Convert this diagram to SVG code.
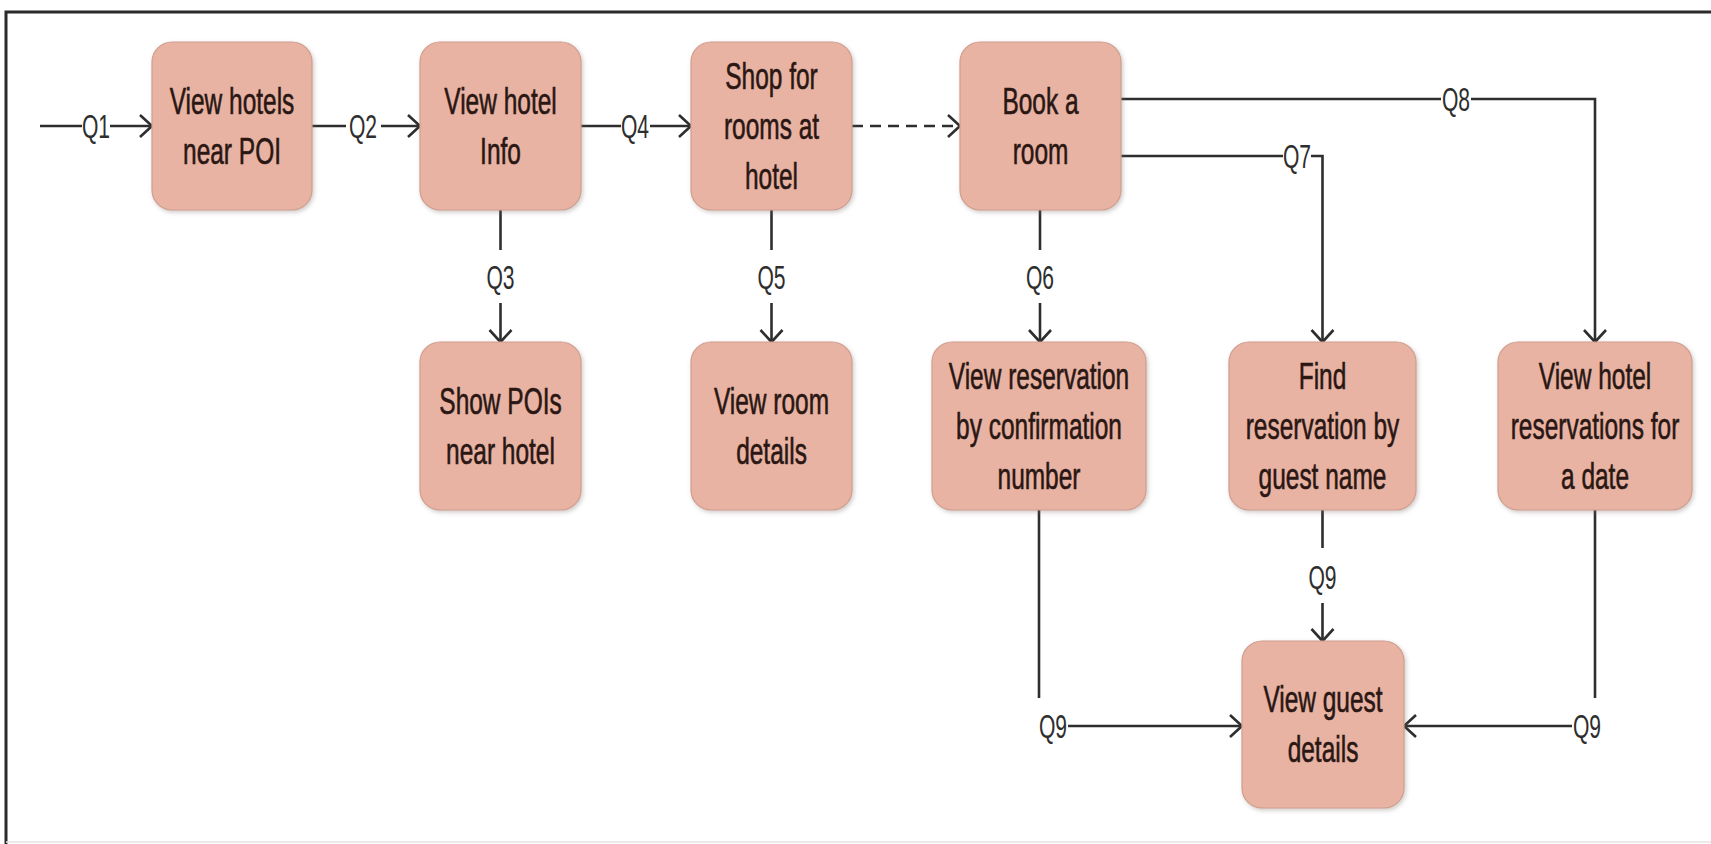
<svg xmlns="http://www.w3.org/2000/svg" width="1711" height="844" viewBox="0 0 1711 844">
  <style>
    .box { fill: #e8b3a3; stroke: #cf9e8f; stroke-width: 1.2; filter: url(#shadow); }
    .t { font-family: "Liberation Sans", Arial, sans-serif; font-size: 36px; fill: #2a1713; stroke: #2a1713; stroke-width: 0.6; text-anchor: middle; }
    .q { font-family: "Liberation Sans", Arial, sans-serif; font-size: 34px; fill: #2e2e2e; text-anchor: middle; }
    .ln { fill: none; stroke: #2e2e2e; stroke-width: 2.6; }
    .arr { marker-end: url(#chev); }
    .dash { stroke-dasharray: 11 7; }
  </style>
  <defs>
    <filter id="shadow" x="-10%" y="-10%" width="125%" height="125%">
      <feDropShadow dx="1.5" dy="2" stdDeviation="2" flood-color="#7a6a66" flood-opacity="0.35"/>
    </filter>
    <marker id="chev" markerUnits="userSpaceOnUse" markerWidth="16" markerHeight="26" viewBox="0 0 16 26" refX="14" refY="13" orient="auto">
      <path d="M2,2 L14,13 L2,24" fill="none" stroke="#2e2e2e" stroke-width="2.6"/>
    </marker>
  </defs>

  <rect width="1711" height="844" fill="#ffffff"/>
  <!-- outer frame -->
  <path d="M6,844 V12 H1711" fill="none" stroke="#2b2b2b" stroke-width="3"/>
  <path d="M6,842 H1711" fill="none" stroke="#e4e4e4" stroke-width="1.5"/>

  <!-- connectors -->
  <g id="connectors">
    <path class="ln" d="M40,126 H82"/>
    <path class="ln arr" d="M110,126 H152"/>
    <text class="q" transform="translate(96 138) scale(0.62 1)">Q1</text>

    <path class="ln" d="M312,126 H346"/>
    <path class="ln arr" d="M381,126 H420"/>
    <text class="q" transform="translate(363 138) scale(0.62 1)">Q2</text>

    <path class="ln" d="M581,126 H621"/>
    <path class="ln arr" d="M650,126 H691"/>
    <text class="q" transform="translate(635 138) scale(0.62 1)">Q4</text>

    <path class="ln dash arr" d="M852,126 H960"/>

    <path class="ln" d="M500.5,210 V250"/>
    <path class="ln arr" d="M500.5,303 V342"/>
    <text class="q" transform="translate(500.5 289) scale(0.62 1)">Q3</text>

    <path class="ln" d="M771.5,210 V250"/>
    <path class="ln arr" d="M771.5,303 V342"/>
    <text class="q" transform="translate(771.5 289) scale(0.62 1)">Q5</text>

    <path class="ln" d="M1040,210 V250"/>
    <path class="ln arr" d="M1040,303 V342"/>
    <text class="q" transform="translate(1040 289) scale(0.62 1)">Q6</text>

    <path class="ln" d="M1121,99 H1441"/>
    <path class="ln arr" d="M1471,99 H1595 V342"/>
    <text class="q" transform="translate(1456 111) scale(0.62 1)">Q8</text>

    <path class="ln" d="M1121,156 H1283"/>
    <path class="ln arr" d="M1311,156 H1322.5 V342"/>
    <text class="q" transform="translate(1297 168) scale(0.62 1)">Q7</text>

    <path class="ln" d="M1322.5,510 V548"/>
    <path class="ln arr" d="M1322.5,603 V641"/>
    <text class="q" transform="translate(1322.5 589) scale(0.62 1)">Q9</text>

    <path class="ln" d="M1039,510 V698"/>
    <path class="ln arr" d="M1068,726 H1242"/>
    <text class="q" transform="translate(1053 738) scale(0.62 1)">Q9</text>

    <path class="ln" d="M1595,510 V698"/>
    <path class="ln arr" d="M1572,726 H1404"/>
    <text class="q" transform="translate(1587 738) scale(0.62 1)">Q9</text>
  </g>

  <!-- nodes -->
  <g id="view-hotels-near-poi">
    <rect class="box" x="152" y="42" width="160" height="168" rx="20"/>
    <text class="t" transform="translate(232 0) scale(0.68 1)"><tspan x="0" y="114">View hotels</tspan><tspan x="0" y="164">near POI</tspan></text>
  </g>
  <g id="view-hotel-info">
    <rect class="box" x="420" y="42" width="161" height="168" rx="20"/>
    <text class="t" transform="translate(500.5 0) scale(0.68 1)"><tspan x="0" y="114">View hotel</tspan><tspan x="0" y="164">Info</tspan></text>
  </g>
  <g id="shop-for-rooms">
    <rect class="box" x="691" y="42" width="161" height="168" rx="20"/>
    <text class="t" transform="translate(771.5 0) scale(0.68 1)"><tspan x="0" y="89">Shop for</tspan><tspan x="0" y="139">rooms at</tspan><tspan x="0" y="189">hotel</tspan></text>
  </g>
  <g id="book-a-room">
    <rect class="box" x="960" y="42" width="161" height="168" rx="20"/>
    <text class="t" transform="translate(1040.5 0) scale(0.68 1)"><tspan x="0" y="114">Book a</tspan><tspan x="0" y="164">room</tspan></text>
  </g>
  <g id="show-pois-near-hotel">
    <rect class="box" x="420" y="342" width="161" height="168" rx="20"/>
    <text class="t" transform="translate(500.5 0) scale(0.68 1)"><tspan x="0" y="414">Show POIs</tspan><tspan x="0" y="464">near hotel</tspan></text>
  </g>
  <g id="view-room-details">
    <rect class="box" x="691" y="342" width="161" height="168" rx="20"/>
    <text class="t" transform="translate(771.5 0) scale(0.68 1)"><tspan x="0" y="414">View room</tspan><tspan x="0" y="464">details</tspan></text>
  </g>
  <g id="view-reservation-by-confirmation">
    <rect class="box" x="932" y="342" width="214" height="168" rx="20"/>
    <text class="t" transform="translate(1039 0) scale(0.68 1)"><tspan x="0" y="389">View reservation</tspan><tspan x="0" y="439">by confirmation</tspan><tspan x="0" y="489">number</tspan></text>
  </g>
  <g id="find-reservation-by-guest">
    <rect class="box" x="1229" y="342" width="187" height="168" rx="20"/>
    <text class="t" transform="translate(1322.5 0) scale(0.68 1)"><tspan x="0" y="389">Find</tspan><tspan x="0" y="439">reservation by</tspan><tspan x="0" y="489">guest name</tspan></text>
  </g>
  <g id="view-hotel-reservations-for-date">
    <rect class="box" x="1498" y="342" width="194" height="168" rx="20"/>
    <text class="t" transform="translate(1595 0) scale(0.68 1)"><tspan x="0" y="389">View hotel</tspan><tspan x="0" y="439">reservations for</tspan><tspan x="0" y="489">a date</tspan></text>
  </g>
  <g id="view-guest-details">
    <rect class="box" x="1242" y="641" width="162" height="167" rx="20"/>
    <text class="t" transform="translate(1323 0) scale(0.68 1)"><tspan x="0" y="712.5">View guest</tspan><tspan x="0" y="762.5">details</tspan></text>
  </g>
</svg>
